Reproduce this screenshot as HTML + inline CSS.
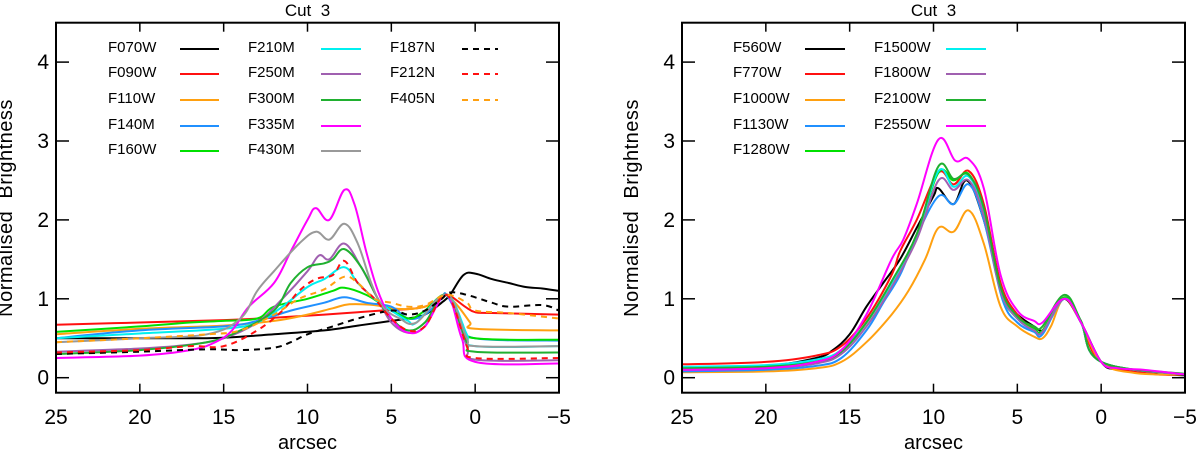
<!DOCTYPE html>
<html><head><meta charset="utf-8"><style>
html,body{margin:0;padding:0;background:#fff;}
svg{display:block;font-family:"Liberation Sans",sans-serif;}
</style></head><body>
<svg id="chart" width="1200" height="453" viewBox="0 0 1200 453"></svg>
<script>
// ---- Left panel data (NIRCam) ----
const leftNames = ["F070W","F090W","F110W","F140M","F160W","F210M","F250M","F300M","F335M","F430M","F187N","F212N","F405N"];
const leftColors = ["#000000","#ff1010","#ffa010","#2090ff","#00e000","#00f0f0","#a060b0","#20b030","#ff00ff","#999999","#000000","#ff1010","#ffa010"];
const leftDashed = [false,false,false,false,false,false,false,false,false,false,true,true,true];
const f070w = [[25,0.5],[20,0.5],[16,0.5],[14,0.52],[12,0.55],[9,0.6],[7,0.66],[5,0.72],[4,0.75],[3,0.8],[2,0.95],[1.5,1.05],[0.7,1.3],[0,1.32],[-1,1.25],[-2,1.2],[-3,1.15],[-4,1.13],[-5,1.1]];
const f090w = [[25,0.67],[20,0.7],[15,0.73],[12,0.76],[9,0.8],[7,0.83],[5,0.86],[4,0.87],[3,0.9],[2,1.0],[1.6,1.05],[0.6,0.9],[0,0.83],[-1,0.82],[-5,0.8]];
const f110w = [[25,0.55],[20,0.62],[15,0.66],[12,0.72],[10,0.8],[8.5,0.88],[7.5,0.93],[6,0.92],[5,0.88],[4,0.87],[3,0.9],[2,1.0],[1.7,1.05],[1,0.9],[0.3,0.7],[0,0.62],[-5,0.6]];
const f140m = [[25,0.5],[20,0.6],[15,0.65],[13,0.72],[11,0.85],[9,0.95],[7.8,1.02],[6.5,0.95],[5,0.9],[4,0.75],[3,0.8],[2,1.0],[1.7,1.05],[0.8,0.7],[0,0.5],[-5,0.47]];
const f160w = [[25,0.58],[20,0.65],[17,0.7],[15,0.72],[13,0.75],[12,0.9],[10,1.0],[8.5,1.1],[7.8,1.14],[6.5,1.05],[5.5,0.92],[4.5,0.8],[3.8,0.75],[3,0.85],[1.7,1.05],[0.8,0.65],[0,0.5],[-5,0.48]];
const f210m = [[25,0.5],[20,0.56],[15,0.62],[13,0.7],[11.5,0.9],[10,1.15],[9,1.25],[7.8,1.4],[7,1.2],[6,1.0],[5,0.85],[4,0.72],[3.5,0.7],[1.7,1.05],[0.5,0.55],[0,0.4],[-5,0.4]];
const f250m = [[25,0.33],[20,0.37],[17,0.42],[15,0.5],[13,0.7],[11.5,1.0],[10,1.35],[9.3,1.55],[8.7,1.5],[7.8,1.7],[6.8,1.4],[5.8,1.0],[5,0.7],[4,0.57],[3,0.65],[1.7,1.05],[0.5,0.4],[0,0.23],[-5,0.22]];
const f300m = [[25,0.3],[20,0.35],[16,0.45],[14,0.6],[12,0.85],[11,1.2],[10,1.4],[9,1.45],[8.5,1.5],[7.8,1.63],[6.8,1.4],[5.8,1.0],[5,0.75],[4,0.6],[3,0.7],[1.7,1.05],[0.5,0.45],[0,0.33],[-5,0.32]];
const f335m = [[25,0.25],[20,0.28],[17,0.35],[15.5,0.45],[14.5,0.6],[13.5,0.9],[12,1.2],[11,1.6],[10,2.0],[9.5,2.15],[8.7,2.0],[7.8,2.38],[7.2,2.2],[6.5,1.6],[5.8,1.1],[5,0.75],[4,0.57],[3,0.65],[1.7,1.05],[0.8,0.5],[0,0.2],[-5,0.18]];
const f430m = [[25,0.45],[20,0.5],[16,0.55],[14,0.75],[13,1.1],[12,1.35],[10.5,1.7],[9.5,1.85],[8.7,1.75],[7.8,1.95],[7,1.7],[6.2,1.2],[5.5,0.9],[4.5,0.75],[3.5,0.7],[1.7,1.05],[0.5,0.5],[0,0.4],[-5,0.4]];
const f187n = [[25,0.3],[20,0.33],[16,0.36],[14,0.35],[12,0.38],[11,0.45],[10,0.55],[8.5,0.65],[7,0.75],[5,0.85],[4,0.8],[3,0.85],[2,1.0],[1.5,1.08],[0.5,1.05],[-1,0.95],[-2,0.9],[-4,0.92],[-5,0.85]];
const f212n = [[25,0.32],[20,0.35],[17,0.4],[15,0.4],[13,0.6],[11.5,0.85],[10.5,1.1],[9.5,1.25],[8.5,1.3],[7.8,1.48],[7,1.2],[6,1.0],[5,0.75],[4,0.6],[3,0.65],[1.7,1.05],[0.5,0.4],[0,0.25],[-5,0.25]];
const f405n = [[25,0.45],[20,0.5],[16,0.55],[14,0.6],[12,0.8],[10.5,1.0],[9,1.12],[7.8,1.28],[7,1.2],[6,1.0],[5,0.95],[4,0.9],[3,0.92],[1.7,1.05],[0.5,0.95],[0,0.85],[-2,0.82],[-5,0.75]];
const leftSeries = [f070w,f090w,f110w,f140m,f160w,f210m,f250m,f300m,f335m,f430m,f187n,f212n,f405n];

// ---- Right panel data (MIRI) ----
const rightNames = ["F560W","F770W","F1000W","F1130W","F1280W","F1500W","F1800W","F2100W","F2550W"];
const rightColors = ["#000000","#ff1010","#ffa010","#2090ff","#00e000","#00f0f0","#a060b0","#20b030","#ff00ff"];
const f560w = [[25,0.13],[20,0.15],[17,0.25],[16,0.35],[15,0.55],[14,0.9],[13,1.2],[12,1.5],[11,1.9],[10,2.3],[9.7,2.4],[8.8,2.2],[8,2.5],[7,2.0],[5.8,1.0],[5,0.8],[4,0.65],[3.5,0.6],[3,0.75],[2.2,1.0],[1.2,0.7],[0,0.2],[-1,0.1],[-3,0.05],[-5,0.03]];
const f770w = [[25,0.17],[20,0.2],[17,0.28],[15.5,0.4],[14,0.75],[12.5,1.3],[12,1.6],[11,2.0],[9.7,2.6],[8.8,2.45],[7.9,2.62],[7,2.2],[6,1.2],[5,0.8],[4,0.62],[3.5,0.6],[2.2,1.0],[1.2,0.7],[0,0.2],[-3,0.05],[-5,0.04]];
const f1000w = [[25,0.07],[20,0.08],[17,0.12],[15.5,0.2],[14,0.45],[12.5,0.8],[11.5,1.1],[10.5,1.5],[9.7,1.9],[8.8,1.85],[7.9,2.12],[7,1.7],[6,0.9],[5,0.65],[4,0.52],[3.5,0.5],[3,0.65],[2.2,1.0],[1.2,0.7],[0,0.2],[-2,0.06],[-5,0.04]];
const f1130w = [[25,0.08],[20,0.1],[17,0.15],[15.5,0.25],[14,0.6],[13,0.95],[12,1.3],[11,1.8],[9.7,2.3],[8.8,2.2],[7.9,2.45],[7,2.0],[5.9,1.0],[5,0.7],[4,0.58],[3.5,0.55],[2.2,1.0],[1.2,0.7],[0,0.2],[-5,0.04]];
const f1280w = [[25,0.12],[20,0.15],[17,0.22],[15.5,0.35],[14,0.7],[12.5,1.2],[11,1.8],[9.7,2.6],[8.8,2.5],[7.9,2.58],[7,2.1],[6,1.1],[5,0.75],[4,0.62],[3.5,0.6],[2.2,1.02],[1.2,0.7],[0,0.2],[-5,0.04]];
const f1500w = [[25,0.14],[20,0.16],[17,0.23],[15.5,0.35],[14,0.7],[12.5,1.2],[11,1.8],[9.7,2.62],[8.8,2.42],[7.9,2.55],[7,2.1],[6,1.1],[5,0.75],[4,0.6],[3.5,0.58],[2.2,1.0],[1.2,0.7],[0,0.2],[-5,0.04]];
const f1800w = [[25,0.1],[20,0.12],[17,0.18],[15.5,0.3],[14,0.65],[12.5,1.15],[11,1.75],[9.7,2.5],[8.8,2.38],[7.9,2.5],[7,2.05],[6,1.1],[5,0.75],[4,0.6],[3.5,0.58],[2.2,1.0],[1.2,0.7],[0,0.2],[-5,0.04]];
const f2100w = [[25,0.12],[20,0.14],[17,0.2],[15.5,0.33],[14,0.7],[12.5,1.22],[11,1.82],[9.7,2.68],[8.8,2.52],[7.9,2.57],[7,2.15],[6,1.15],[5,0.78],[4,0.65],[3.5,0.65],[2.2,1.05],[1.2,0.72],[0,0.2],[-5,0.05]];
const f2550w = [[25,0.1],[20,0.12],[17,0.2],[15.5,0.35],[14,0.8],[12.5,1.5],[11.8,1.75],[11,2.2],[9.7,3.02],[8.7,2.75],[7.9,2.77],[7,2.4],[6,1.3],[5,0.85],[4,0.72],[3.5,0.7],[2.2,1.0],[1.2,0.7],[0,0.2],[-1,0.12],[-2.5,0.1],[-5,0.04]];
const rightSeries = [f560w,f770w,f1000w,f1130w,f1280w,f1500w,f1800w,f2100w,f2550w];

const xTicks = [25,20,15,10,5,0,-5];
const xTickLabels = ["25","20","15","10","5","0","\u22125"];
const yTicks = [0,1,2,3,4];
const yTickLabels = ["0","1","2","3","4"];

const NS = "http://www.w3.org/2000/svg";
const svg = document.getElementById("chart");
function mk(tag, attrs, parent){const e=document.createElementNS(NS,tag);for(const k in attrs)e.setAttribute(k,attrs[k]);(parent||svg).appendChild(e);return e;}

function smoothPath(P){
  // Catmull-Rom to cubic Bezier
  let d="M"+P[0][0].toFixed(1)+","+P[0][1].toFixed(1);
  for(let i=0;i<P.length-1;i++){
    const p0=P[Math.max(0,i-1)], p1=P[i], p2=P[i+1], p3=P[Math.min(P.length-1,i+2)];
    const t=0.18;
    const c1x=p1[0]+(p2[0]-p0[0])*t, c1y=p1[1]+(p2[1]-p0[1])*t;
    const c2x=p2[0]-(p3[0]-p1[0])*t, c2y=p2[1]-(p3[1]-p1[1])*t;
    d+=" C"+c1x.toFixed(1)+","+c1y.toFixed(1)+" "+c2x.toFixed(1)+","+c2y.toFixed(1)+" "+p2[0].toFixed(1)+","+p2[1].toFixed(1);
  }
  return d;
}

function panel(prefix, left){
  const L=left, R=left+503, T=22.7, B=392.7;
  const xS = v => L + (25 - v) / 30 * (R - L);
  const yS = v => 377.7 - v * 78.9;
  const g = mk("g",{});
  
  
  const t = mk("text",{x:(L+R)/2,y:16,"text-anchor":"middle","font-size":"17",fill:"#000"},g);
  t.textContent="Cut\u00a0\u00a03";
  
  
  xTicks.forEach((v,i)=>{
    const x=xS(v);
    mk("line",{x1:x,x2:x,y1:B,y2:B-9,stroke:"#000","stroke-width":"1.5"},g);
    mk("line",{x1:x,x2:x,y1:T,y2:T+9,stroke:"#000","stroke-width":"1.5"},g);
    const tl=mk("text",{x:x,y:424,"text-anchor":"middle","font-size":"21",fill:"#000"},g);
    tl.textContent=xTickLabels[i];
    
    
  });
  yTicks.forEach((v,i)=>{
    const y=yS(v);
    mk("line",{x1:L,x2:L+13,y1:y,y2:y,stroke:"#000","stroke-width":"1.5"},g);
    mk("line",{x1:R,x2:R-13,y1:y,y2:y,stroke:"#000","stroke-width":"1.5"},g);
    const tl=mk("text",{x:L-7,y:y+7,"text-anchor":"end","font-size":"21",fill:"#000"},g);
    tl.textContent=yTickLabels[i];
    
    
  });
  const xl=mk("text",{x:(L+R)/2,y:449,"text-anchor":"middle","font-size":"20",fill:"#000"},g);
  xl.textContent="arcsec";
  
  
  const yx=L-44, yy=208;
  const yl=mk("text",{x:yx,y:yy,"text-anchor":"middle","font-size":"20",fill:"#000",transform:`rotate(-90 ${yx} ${yy})`,"letter-spacing":"0.5"},g);
  yl.textContent="Normalised\u00a0\u00a0Brightness";
  
  
  return {g,L,R,T,B,xS,yS};
}

function drawSeries(p, series, colors, dashed, names, prefix){
  series.forEach((pts,i)=>{
    const P = pts.map(q=>[p.xS(q[0]), p.yS(q[1])]);
    const path=mk("path",{d:smoothPath(P),fill:"none",stroke:colors[i],"stroke-width":"2","stroke-linejoin":"round"},p.g);
    if(dashed[i]) path.setAttribute("stroke-dasharray","6,5");
    
    
  });
  const fr=mk("rect",{x:p.L,y:p.T,width:p.R-p.L,height:p.B-p.T,fill:"none",stroke:"#000","stroke-width":"2"},p.g);
  
  
}

function drawLegend(p, names, colors, dashed, cols){
  const rows=[47,72,98,124,149];
  names.forEach((n,i)=>{
    const c=Math.floor(i/5), r=i%5;
    const col=cols[c];
    const item=mk("g",{},p.g);
    
    
    const t=mk("text",{x:col[0],y:rows[r]+5,"font-size":"15",fill:"#000"},item);
    t.textContent=n;
    const ln=mk("line",{x1:col[1],x2:col[2],y1:rows[r]+2,y2:rows[r]+2,stroke:colors[i],"stroke-width":"2"},item);
    if(dashed[i]) ln.setAttribute("stroke-dasharray","6,5");
  });
}

const pL = panel("left", 56);
drawSeries(pL, leftSeries, leftColors, leftDashed, leftNames, "left");
drawLegend(pL, leftNames, leftColors, leftDashed, [[108,180,219],[248,321,361],[390,462,498]]);

const pR = panel("right", 682);
const rightDashed = rightNames.map(()=>false);
drawSeries(pR, rightSeries, rightColors, rightDashed, rightNames, "right");
drawLegend(pR, rightNames, rightColors, rightDashed, [[733,805,845],[874,946,986]]);
</script>
</body></html>
